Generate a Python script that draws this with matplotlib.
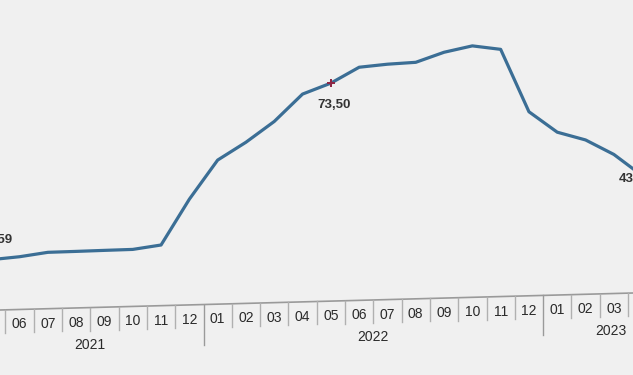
import matplotlib
matplotlib.use("Agg")
import matplotlib.pyplot as plt
import matplotlib.transforms as mtransforms

plt.rcParams['font.family'] = ['Liberation Sans', 'DejaVu Sans']

# ---- data ----
months = ["05", "06", "07", "08", "09", "10", "11", "12",
          "01", "02", "03", "04", "05", "06", "07", "08", "09", "10", "11", "12",
          "01", "02", "03", "04"]
years = ["2021", "2022", "2023"]
year_of_month = [0]*8 + [1]*12 + [2]*4
values = [16.59, 17.53, 18.95, 19.25, 19.58, 19.89, 21.31, 36.08,
          48.69, 54.44, 61.14, 69.97, 73.50, 78.62, 79.60, 80.21, 83.45, 85.51, 84.39, 64.27,
          57.68, 55.18, 50.51, 43.68]
labelled = {0: "16,59", 12: "73,50", 23: "43,68"}

W, H = 633, 375
fig = plt.figure(figsize=(W/100, H/100), dpi=100)
fig.patch.set_facecolor("#F0F0F0")

ax_bottom_px = 308
ax = fig.add_axes([0, (H - ax_bottom_px)/H, 1, ax_bottom_px/H])
ax.set_facecolor("#F0F0F0")
for s in ax.spines.values():
    s.set_visible(False)
ax.set_xticks([])
ax.set_yticks([])

k = list(range(len(values)))
x0, dx = -8.75, 28.3
ax.set_xlim((0 - x0)/dx, (W - x0)/dx)
ax.set_ylim(1, 100.3)

ax.plot(k, values, color="#3B6E95", lw=2.3, solid_joinstyle="round", zorder=3)
ax.plot([12], [values[12]], marker="P", color="#8E2745", markersize=6, zorder=4,
        markeredgewidth=0)

# data labels
ax.text(0.15, values[0] + 6.2, labelled[0], ha="center", va="center",
        fontsize=9.5, fontweight="bold", color="#333333")
ax.text(12.1, values[12] - 7.2, labelled[12], ha="center", va="center",
        fontsize=9.5, fontweight="bold", color="#333333")
ax.text(23.0 - 0.25, values[23] - 1.0, labelled[23], ha="center", va="center",
        fontsize=9.5, fontweight="bold", color="#333333", clip_on=False)

# --- tilted category axis ---
trans = mtransforms.blended_transform_factory(ax.transData, ax.transAxes)

def axis_frac(kk, below_px):
    xpx = x0 + dx*kk
    ypx = 310.0 - 17.0*xpx/633.0 + below_px
    return (ax_bottom_px - ypx)/ax_bottom_px

kl, kr = -1.0, 24.0
ax.plot([kl, kr], [axis_frac(kl, 0), axis_frac(kr, 0)], transform=trans,
        color="#9A9A9A", lw=1.2, clip_on=False)

for i in range(len(months) + 1):
    b = i - 0.5
    is_year = (i == 8 or i == 20)
    depth = 40 if is_year else 23
    ax.plot([b, b], [axis_frac(b, 0), axis_frac(b, depth)], transform=trans,
            color="#B0B0B0" if not is_year else "#9A9A9A", lw=1.0, clip_on=False)

for i, m in enumerate(months):
    ax.text(i, axis_frac(i, 15), m, transform=trans, ha="center", va="center",
            fontsize=10, color="#2A2A2A", clip_on=False)

for yi, yname in enumerate(years):
    idx = [i for i, y in enumerate(year_of_month) if y == yi]
    c = (idx[0] + idx[-1]) / 2.0
    if yi == 2:
        c += 0.4
    ax.text(c, axis_frac(c, 37), yname, transform=trans, ha="center", va="center",
            fontsize=10, color="#2A2A2A", clip_on=False)

fig.savefig("out.png", dpi=100, facecolor=fig.get_facecolor())
